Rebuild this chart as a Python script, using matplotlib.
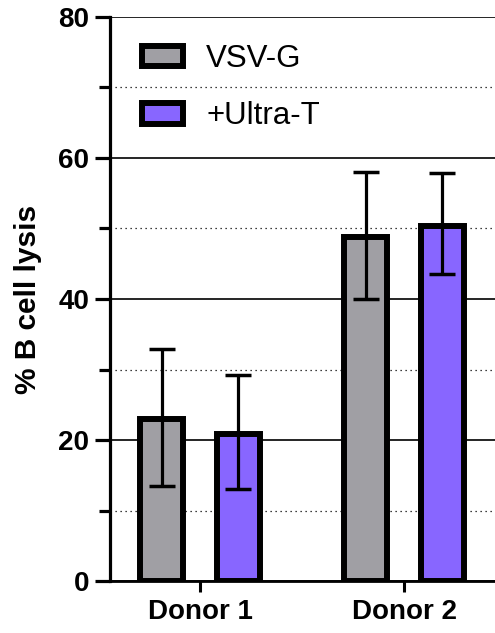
import numpy as np
import matplotlib
matplotlib.use("Agg")
import matplotlib.pyplot as plt
from matplotlib.ticker import MultipleLocator

# data
donors = ["Donor 1", "Donor 2"]
groups = ["VSV-G", "+Ultra-T"]
vsvg_mean = [23.0, 48.8]
vsvg_low = [13.5, 40.0]
vsvg_high = [32.9, 58.0]
ultra_mean = [20.9, 50.4]
ultra_low = [13.1, 43.5]
ultra_high = [29.2, 57.9]

colors = ["#A09FA4", "#8866FF"]

plt.rcParams["font.family"] = ["Liberation Sans", "DejaVu Sans"]

fig = plt.figure(figsize=(4.95, 6.33), dpi=100)
ax = fig.add_axes([110 / 495, 1 - 581 / 633, 1 - 110 / 495, (581 - 17) / 633])

x = np.arange(len(donors))
offset = 0.187
width = 0.21

means = [vsvg_mean, ultra_mean]
lows = [vsvg_low, ultra_low]
highs = [vsvg_high, ultra_high]
for i, (m, lo, hi) in enumerate(zip(means, lows, highs)):
    m = np.array(m)
    err = [m - np.array(lo), np.array(hi) - m]
    pos = x + (-offset if i == 0 else offset)
    ax.bar(pos, m, width, color=colors[i], edgecolor="black", linewidth=4.3,
           label=groups[i], zorder=3)
    ax.errorbar(pos, m, yerr=err, fmt="none", ecolor="black", elinewidth=2.3,
                capsize=9.5, capthick=2.5, zorder=4)

ax.set_ylim(0, 80)
ax.set_xlim(-0.441, 1.446)
ax.yaxis.set_major_locator(MultipleLocator(20))
ax.yaxis.set_minor_locator(MultipleLocator(10))

ax.grid(axis="y", which="major", color="black", linewidth=1.2, zorder=0)
ax.grid(axis="y", which="minor", color="black", linewidth=0.9,
        linestyle=(0, (1, 3)), zorder=0)
ax.set_axisbelow(True)

for s in ["top", "right"]:
    ax.spines[s].set_visible(False)
ax.spines["left"].set_linewidth(2.3)
ax.spines["bottom"].set_linewidth(2.0)

ax.set_xticks(x)
ax.set_xticklabels(donors, fontsize=20, fontweight="bold")
ax.tick_params(axis="x", length=8, width=2.2, pad=5)
ax.tick_params(axis="y", which="major", length=11, width=2.3, pad=4,
               labelsize=20)
ax.tick_params(axis="y", which="minor", length=8, width=2.3)
for lab in ax.get_yticklabels():
    lab.set_fontweight("bold")

ax.set_ylabel("% B cell lysis", fontsize=21.5, fontweight="bold")
ax.yaxis.set_label_coords(-0.177, 0.5)

ax.legend(loc="upper left", bbox_to_anchor=(142 / 495, 1 - 44 / 633),
          bbox_transform=fig.transFigure, frameon=False, fontsize=22.5,
          handlelength=1.3, handleheight=0.65, handletextpad=0.75,
          labelspacing=0.88, borderpad=0, borderaxespad=0)

fig.savefig("out.png", dpi=100)
